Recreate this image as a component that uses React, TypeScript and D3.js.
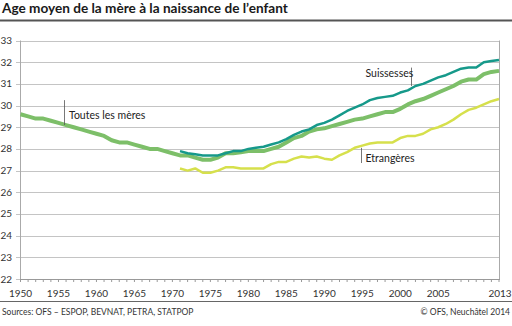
import React from "react";
import * as d3 from "d3";

const W = 512;
const H = 326;

const yearsAll = d3.range(1950, 2014);
const allMothers = [
  29.6, 29.5, 29.4, 29.4, 29.3, 29.2, 29.1, 29.0, 28.9, 28.8,
  28.7, 28.6, 28.4, 28.3, 28.3, 28.2, 28.1, 28.0, 28.0, 27.9,
  27.8, 27.7, 27.7, 27.6, 27.5, 27.5, 27.6, 27.8, 27.8, 27.85,
  27.9, 27.9, 27.9, 28.0, 28.1, 28.3, 28.5, 28.6, 28.8, 28.9,
  28.95, 29.05, 29.15, 29.25, 29.35, 29.4, 29.5, 29.6, 29.7, 29.7,
  29.85, 30.05, 30.2, 30.3, 30.45, 30.6, 30.75, 30.9, 31.1, 31.2,
  31.2, 31.45, 31.55, 31.6,
];

const yearsSplit = d3.range(1971, 2014);
const swiss = [
  27.9, 27.8, 27.75, 27.7, 27.7, 27.7, 27.8, 27.9, 27.9,
  28.0, 28.05, 28.1, 28.2, 28.3, 28.45, 28.65, 28.8, 28.9, 29.1,
  29.2, 29.35, 29.55, 29.75, 29.9, 30.05, 30.25, 30.35, 30.4, 30.45,
  30.6, 30.7, 30.9, 31.0, 31.15, 31.3, 31.4, 31.55, 31.7, 31.75,
  31.75, 32.0, 32.05, 32.1,
];
const foreign = [
  27.1, 27.0, 27.1, 26.9, 26.9, 27.0, 27.15, 27.15, 27.1,
  27.1, 27.1, 27.1, 27.3, 27.4, 27.4, 27.55, 27.65, 27.6, 27.65,
  27.55, 27.5, 27.7, 27.85, 28.05, 28.15, 28.25, 28.3, 28.3, 28.3,
  28.5, 28.6, 28.6, 28.7, 28.9, 29.0, 29.15, 29.35, 29.6, 29.8,
  29.9, 30.05, 30.2, 30.3,
];

const yTicks = d3.range(22, 34);
const xTickLabels = [1950, 1955, 1960, 1965, 1970, 1975, 1980, 1985, 1990, 1995, 2000, 2005, 2013];

const title = "Age moyen de la mère à la naissance de l’enfant";
const source = "Sources: OFS – ESPOP, BEVNAT, PETRA, STATPOP";
const copyright = "© OFS, Neuchâtel 2014";

const FONT = "Lato, 'Open Sans', sans-serif";

export default function App() {
  const x = d3.scaleLinear().domain([1950, 2013]).range([20.5, 499]);
  const y = d3.scaleLinear().domain([22, 33]).range([279, 40.5]);

  const line = d3
    .line<[number, number]>()
    .x((d) => x(d[0]))
    .y((d) => y(d[1]));

  const allPts = yearsAll.map((yr, i) => [yr, allMothers[i]] as [number, number]);
  const swissPts = yearsSplit.map((yr, i) => [yr, swiss[i]] as [number, number]);
  const foreignPts = yearsSplit.map((yr, i) => [yr, foreign[i]] as [number, number]);

  const yearTicks = d3.range(1950, 2014);

  return (
    <div style={{ position: "fixed", left: 0, top: 0 }}>
      <svg width={W} height={H} style={{ display: "block", background: "#fff" }} fontFamily={FONT}>
        <text x={2} y={13} fontSize={13.6} fontWeight={700} fill="#1a1a1a">
          {title}
        </text>
        <line x1={0} x2={W} y1={20.5} y2={20.5} stroke="#555" strokeWidth={2} />

        {/* grid */}
        {yTicks.map((t) => (
          <g key={t}>
            <line x1={16} x2={499} y1={Math.round(y(t)) + 0.5} y2={Math.round(y(t)) + 0.5} stroke="#c4c4c4" strokeWidth={1} />
            <text x={12} y={y(t) + 3.5} fontSize={10} textAnchor="end" fill="#333">
              {t}
            </text>
          </g>
        ))}
        <line x1={20.5} x2={20.5} y1={y(33)} y2={y(22) + 3} stroke="#aaa" strokeWidth={1} />
        <line x1={499.5} x2={499.5} y1={y(33)} y2={y(22)} stroke="#aaa" strokeWidth={1} />
        <line x1={20} x2={500} y1={Math.round(y(22)) + 0.5} y2={Math.round(y(22)) + 0.5} stroke="#999" strokeWidth={1} />
        {yearTicks.map((yr) => (
          <line key={yr} x1={x(yr)} x2={x(yr)} y1={y(22)} y2={y(22) + 3} stroke="#999" strokeWidth={1} />
        ))}
        {xTickLabels.map((yr) => (
          <text key={yr} x={yr === 2013 ? x(yr) + 1 : x(yr)} y={297} fontSize={10} textAnchor="middle" fill="#333">
            {yr}
          </text>
        ))}

        {/* lines */}
        <path d={line(allPts) || ""} fill="none" stroke="#7dbf69" strokeWidth={4} strokeLinejoin="round" />
        <path d={line(swissPts) || ""} fill="none" stroke="#16998a" strokeWidth={2.5} strokeLinejoin="round" />
        <path d={line(foreignPts) || ""} fill="none" stroke="#d6e04c" strokeWidth={2.5} strokeLinejoin="round" />

        {/* labels */}
        <line x1={64.5} x2={64.5} y1={y(30.25)} y2={y(29.1)} stroke="#555" strokeWidth={0.8} />
        <text x={69} y={119} fontSize={10.5} fill="#222">Toutes les mères</text>
        <line x1={411.5} x2={411.5} y1={y(31.75)} y2={y(30.9)} stroke="#555" strokeWidth={0.8} />
        <text x={365.5} y={77} fontSize={10.5} fill="#222">Suissesses</text>
        <line x1={361.5} x2={361.5} y1={y(28.05)} y2={y(27.35)} stroke="#555" strokeWidth={0.8} />
        <text x={365.5} y={162} fontSize={10.5} fill="#222">Etrangères</text>

        {/* footer */}
        <line x1={0} x2={W} y1={301.5} y2={301.5} stroke="#666" strokeWidth={1} />
        <text x={2} y={314.5} fontSize={8.5} fill="#333">{source}</text>
        <text x={510} y={314.5} fontSize={8.5} textAnchor="end" fill="#333">{copyright}</text>
      </svg>
    </div>
  );
}
